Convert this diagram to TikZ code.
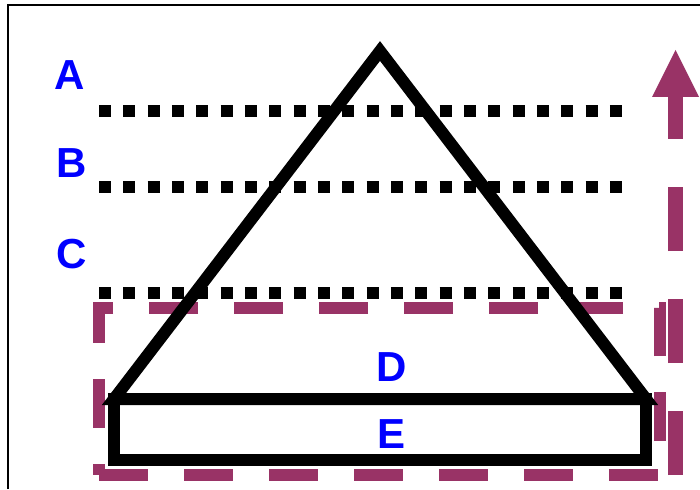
\documentclass[tikz,border=0pt]{standalone}
\usepackage{fontspec}
\setmainfont{Liberation Sans}
\definecolor{plum}{RGB}{153,51,102}
\definecolor{lblue}{RGB}{0,0,255}
\begin{document}
\begin{tikzpicture}[x=1pt,y=-1pt,
  lbl/.style={text=lblue,font=\fontsize{42}{42}\selectfont\bfseries,inner sep=0pt,anchor=center},
  dotline/.style={line width=12pt,dash pattern=on 12pt off 12.33pt},
  frameline/.style={line width=2pt},
  outlinebox/.style={line width=12pt,line join=miter},
  region/.style={draw=plum,line width=12pt,dash pattern=on 48.6pt off 36.4pt,line join=miter},
  shaft/.style={draw=plum,line width=15pt,dash pattern=on 64pt off 48pt}]
\useasboundingbox (0,0) rectangle (700,489);
\fill[white] (0,0) rectangle (700,489);
% frame
\draw[frameline] (8,489) -- (8,5) -- (700,5);
% coordinates
\coordinate (apex) at (380,51);
\coordinate (bl) at (114,399);
\coordinate (br) at (646,399);
\coordinate (el) at (114,460);
\coordinate (er) at (646,460);
\coordinate (rBL) at (99,475);
\coordinate (rBR) at (660,475);
\coordinate (rTR) at (660,308);
\coordinate (rTL) at (99,308);
\coordinate (aS) at (675.5,475);
\coordinate (aE) at (675.5,75);
\coordinate (hL) at (652,97);
\coordinate (hR) at (699,97);
\coordinate (hT) at (675.5,50);
\coordinate (a1) at (99,111); \coordinate (a2) at (622,111);
\coordinate (b1) at (99,187); \coordinate (b2) at (622,187);
\coordinate (c1) at (99,293); \coordinate (c2) at (622,293);
% dotted levels
\draw[dotline] (a1) -- (a2);
\draw[dotline] (b1) -- (b2);
\draw[dotline] (c1) -- (c2);
% dashed region
\draw[region] (rBL) -- (rBR) -- (rTR) -- (rTL) -- cycle;
% arrow
\draw[shaft] (aS) -- (aE);
\fill[plum] (hL) -- (hR) -- (hT) -- cycle;
% triangle and base rectangle
\draw[outlinebox] (apex) -- (bl) -- (br) -- cycle;
\draw[outlinebox] (bl) rectangle (er);
% labels
\node[lbl] (A) at (70,75) {A};
\node[lbl] (B) at (72,163.5) {B};
\node[lbl] (C) at (72,254) {C};
\node[lbl] (D) at (392,367.5) {D};
\node[lbl] (E) at (391,434) {E};
\end{tikzpicture}
\end{document}
